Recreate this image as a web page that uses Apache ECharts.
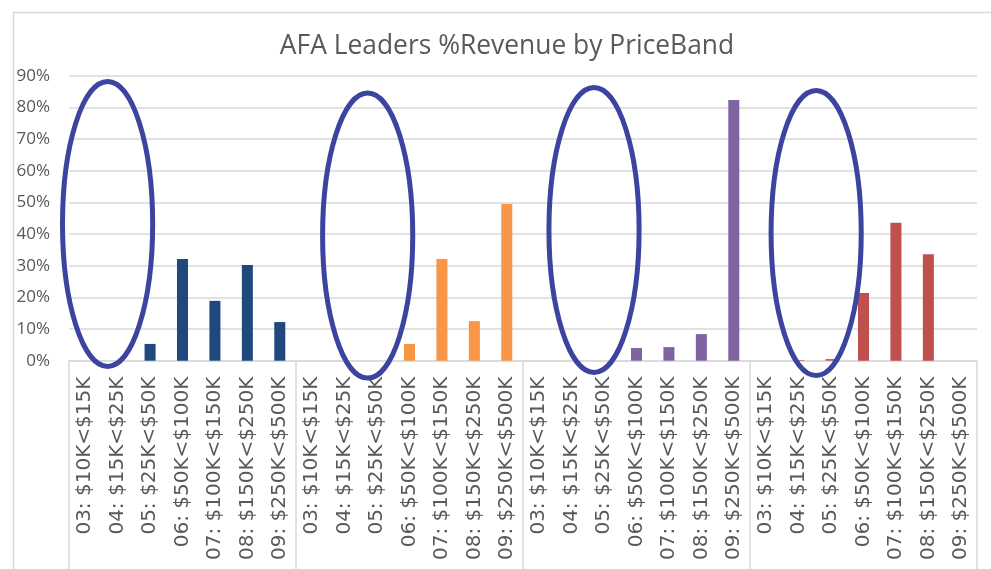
<!DOCTYPE html>
<html>
<head>
<meta charset="utf-8">
<script src="https://cdn.jsdelivr.net/npm/echarts@6/dist/echarts.min.js"></script>
<style>html,body{margin:0;padding:0;background:#fff}#c{width:991px;height:569px}</style>
</head>
<body>
<div id="c"></div>
<script>
// ---- data ----
var priceBands = ['03: $10K<$15K','04: $15K<$25K','05: $25K<$50K','06: $50K<$100K','07: $100K<$150K','08: $150K<$250K','09: $250K<$500K'];
var groupNames = ['Group 1','Group 2','Group 3','Group 4'];
var group1Values = [0, 0, 5.3, 32.1, 18.9, 30.2, 12.2];
var group2Values = [0, 0, 0, 5.3, 32.1, 12.5, 49.5];
var group3Values = [0, 0, 0, 4.0, 4.3, 8.4, 82.3];
var group4Values = [0, 0.2, 0.5, 21.4, 43.6, 33.6, 0];
var groupColors = ['#1F497D','#F79646','#8064A2','#C0504D'];
var yTicks = [0,10,20,30,40,50,60,70,80,90];
// annotation ellipses (center in category index / value units)
var ellipseCenterIndex = [0.69, 8.71, 15.69, 22.54];
var ellipseCenterValue = [43.2, 39.5, 41.3, 40.3];
var ellipseRadiusCats = 1.39;
var ellipseRadiusValue = 45;

// ---- build ----
var allGroups = [group1Values, group2Values, group3Values, group4Values];
var cats = [], data = [];
allGroups.forEach(function(vals, g){
  vals.forEach(function(v, i){
    cats.push(priceBands[i]);
    data.push({value: v, itemStyle: {color: groupColors[g]}});
  });
});

var FONT = 'Open Sans';
var TXT = '#595959';
var GRID = '#D9D9D9';
var chart = echarts.init(document.getElementById('c'));
chart.setOption({
  animation: false,
  title: {
    text: 'AFA Leaders %Revenue by PriceBand',
    left: 502, top: 28, textAlign: 'center',
    textStyle: {fontFamily: FONT, fontSize: 26.4, fontWeight: 'normal', color: TXT}
  },
  grid: {left: 69, right: 14, top: 75.7, bottom: 208.3, containLabel: false},
  xAxis: [{
    type: 'category', data: cats, position: 'bottom',
    axisLine: {show: true, lineStyle: {color: GRID, width: 1.5}},
    axisTick: {show: false},
    axisLabel: {interval: 0, rotate: 90, margin: 16, fontFamily: 'DejaVu Sans', fontSize: 20, color: TXT}
  }, {
    type: 'category', data: groupNames, position: 'bottom',
    axisLine: {show: false},
    axisTick: {show: true, interval: 0, length: 220, lineStyle: {color: GRID, width: 1.5}},
    axisLabel: {show: false}
  }],
  yAxis: {
    type: 'value', min: 0, max: 90, interval: 10,
    axisLine: {show: false}, axisTick: {show: false},
    axisLabel: {formatter: '{value}%', margin: 19, fontFamily: FONT, fontSize: 17, color: TXT},
    splitLine: {lineStyle: {color: GRID, width: 1.5}}
  },
  series: [{
    type: 'bar', xAxisIndex: 0, data: data, barWidth: '34%'
  }]
});

// ellipses via axis conversion
var x0 = chart.convertToPixel({xAxisIndex: 0}, 0);
var x1 = chart.convertToPixel({xAxisIndex: 0}, 1);
var band = x1 - x0;
var yZero = chart.convertToPixel({yAxisIndex: 0}, 0);
var yR = chart.convertToPixel({yAxisIndex: 0}, ellipseRadiusValue);
var ells = ellipseCenterIndex.map(function(ci, k){
  return {
    type: 'ellipse', id: 'ell' + k, silent: true, z: 100,
    shape: {
      cx: x0 + ci * band,
      cy: chart.convertToPixel({yAxisIndex: 0}, ellipseCenterValue[k]),
      rx: ellipseRadiusCats * band,
      ry: yZero - yR
    },
    style: {fill: 'none', stroke: '#3C44A0', lineWidth: 5}
  };
});
chart.setOption({graphic: [{
    type: 'rect', id: 'frame', left: 11, top: 10, silent: true,
    shape: {width: 1100, height: 700},
    style: {fill: 'none', stroke: GRID, lineWidth: 1.5}
  }].concat(ells)});
</script>
</body>
</html>
